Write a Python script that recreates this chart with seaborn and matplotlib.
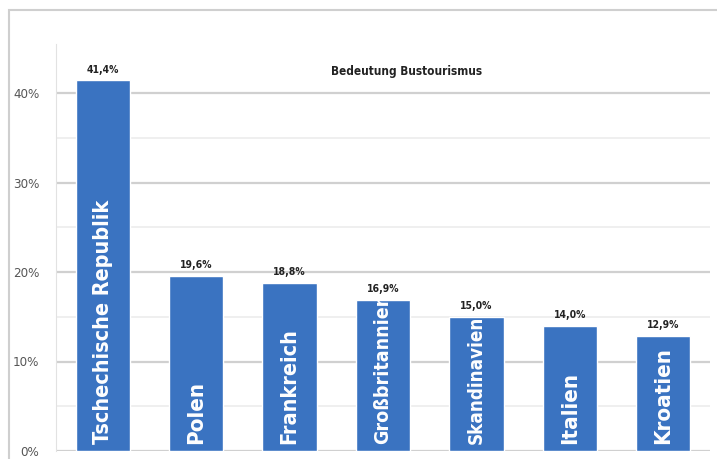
import matplotlib
matplotlib.use("Agg")
import matplotlib.pyplot as plt
import seaborn as sns
import pandas as pd
from matplotlib.patches import Rectangle

countries = ["Tschechische Republik", "Polen", "Frankreich", "Großbritannien",
             "Skandinavien", "Italien", "Kroatien"]
values = [41.4, 19.6, 18.8, 16.9, 15.0, 14.0, 12.9]
value_labels = ["41,4%", "19,6%", "18,8%", "16,9%", "15,0%", "14,0%", "12,9%"]
yticks = [0, 10, 20, 30, 40]
ytick_labels = ["0%", "10%", "20%", "30%", "40%"]
title = "Bedeutung Bustourismus"
label_sizes = [15.5, 16, 15.5, 14, 13.5, 16, 16]

df = pd.DataFrame({"country": countries, "value": values})

sns.set_theme(style="white")
plt.rcParams["font.family"] = ["DejaVu Sans"]

W, H = 717, 459
fig = plt.figure(figsize=(W / 100, H / 100), dpi=100)
fig.patch.set_facecolor("white")

base_px = 451
unit = 8.95
left, right = 56 / W, 710 / W
bottom = 1 - base_px / H
ymax = 45.5
top_px = base_px - ymax * unit
ax = fig.add_axes([left, bottom, right - left, (base_px - top_px) / H])

sns.barplot(data=df, x="country", y="value", color="#3a73c1", width=0.58,
            saturation=1, ax=ax, zorder=3)

ax.set_ylim(0, ymax)
ax.set_xlim(-0.5, 6.5)
ax.set_yticks(yticks)
ax.set_yticklabels(ytick_labels, color="#555555", fontsize=9.5,
                   fontstretch="condensed")
ax.set_yticks([5, 15, 25, 35], minor=True)
ax.tick_params(axis="y", which="both", length=0, pad=12)
ax.set_xticks([])
ax.set_xlabel("")
ax.set_ylabel("")
ax.grid(axis="y", which="major", color="#d0d0d0", linewidth=1.6, zorder=0)
ax.grid(axis="y", which="minor", color="#ececec", linewidth=1.2, zorder=0)
for s in ["top", "right", "bottom"]:
    ax.spines[s].set_visible(False)
ax.spines["left"].set_color("#e2e2e2")
ax.spines["left"].set_linewidth(0.8)

for i, (v, lab, name, fs) in enumerate(zip(values, value_labels, countries, label_sizes)):
    ax.text(i, v + 0.6, lab, ha="center", va="bottom", fontsize=7.5,
            fontweight="bold", fontstretch="condensed", color="#222222")
    ax.text(i, 0.8, name, ha="center", va="bottom", rotation=90,
            fontsize=fs, fontweight="bold", fontstretch="condensed",
            color="white", zorder=5)

fig.text(407 / W, 1 - 72 / H, title, ha="center", va="center",
         fontsize=8.5, fontweight="bold", fontstretch="condensed",
         color="#222222")

# outer chart border
fig.add_artist(Rectangle((9 / W, -0.02), 1.0, 1 - 10 / H + 0.02,
                         transform=fig.transFigure, fill=False,
                         edgecolor="#cfcfcf", linewidth=1.5))

fig.savefig("out.png", dpi=100, facecolor="white")
